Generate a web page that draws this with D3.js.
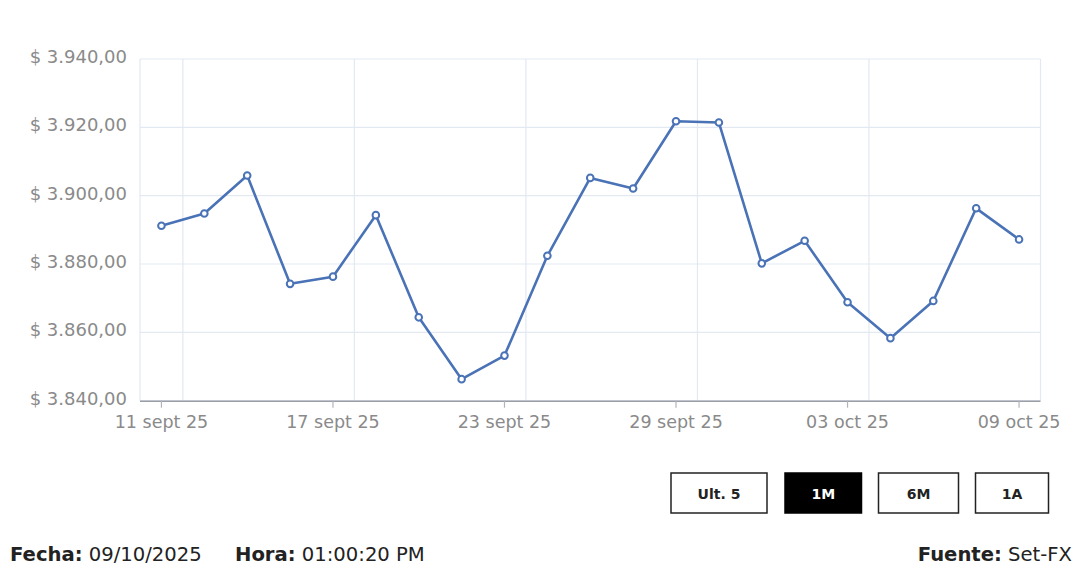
<!DOCTYPE html>
<html><head><meta charset="utf-8">
<script src="https://cdn.jsdelivr.net/npm/d3@7"></script>
<style>
html,body{margin:0;padding:0;background:#fff;width:1080px;height:567px;overflow:hidden}
svg{display:block}
</style></head>
<body>
<svg id="c" width="1080" height="567"></svg>
<script>
const dates = ["11 sept 25","12 sept 25","15 sept 25","16 sept 25","17 sept 25","18 sept 25","19 sept 25","22 sept 25","23 sept 25","24 sept 25","25 sept 25","26 sept 25","29 sept 25","30 sept 25","01 oct 25","02 oct 25","03 oct 25","06 oct 25","07 oct 25","08 oct 25","09 oct 25"];
const values = [3891.2,3894.8,3905.9,3874.2,3876.3,3894.3,3864.4,3846.3,3853.2,3882.4,3905.2,3902.1,3921.8,3921.4,3880.2,3886.8,3868.8,3858.3,3869.2,3896.3,3887.2];
const yTicks = [3840,3860,3880,3900,3920,3940];
const xTickDates = ["11 sept 25","17 sept 25","23 sept 25","29 sept 25","03 oct 25","09 oct 25"];
const buttons = ["Ult. 5","1M","6M","1A"];
const activeButton = "1M";

const FONT = "'DejaVu Sans', sans-serif";
const svg = d3.select("#c");
const L = 140, R = 1040.5, T = 59, B = 400.7;

const x = d3.scaleBand().domain(dates).range([L, R]).padding(0);
const cx = d => x(d) + x.bandwidth()/2;
const y = d3.scaleLinear().domain([3840,3940]).range([B, T]);

// horizontal grid
svg.append("g").selectAll("line").data(yTicks).join("line")
  .attr("x1", L).attr("x2", R).attr("y1", d=>y(d)).attr("y2", d=>y(d))
  .attr("stroke", "#e3e9f2").attr("stroke-width", 1.2);
// vertical grid (band boundaries after each tick category) + borders
const vgrid = xTickDates.slice(0, -1).map(d => x(d) + x.bandwidth());
svg.append("g").selectAll("line").data([L, ...vgrid, R]).join("line")
  .attr("x1", d=>d).attr("x2", d=>d).attr("y1", T).attr("y2", B)
  .attr("stroke", "#e3e9f2").attr("stroke-width", 1.2);

// y axis labels
const fmt = v => "$ " + d3.format(",.2f")(v).replace(/,/g,"#").replace(/\./g,",").replace(/#/g,".");
svg.append("g").selectAll("text").data(yTicks).join("text")
  .attr("x", 127).attr("y", d=>y(d)+4)
  .attr("text-anchor","end").attr("font-family",FONT).attr("font-size",18)
  .attr("fill","#8a8a8a").text(d=>fmt(d));

// x axis
const xAxis = d3.axisBottom(x).tickValues(xTickDates).tickSize(7).tickSizeOuter(0);
const gx = svg.append("g").attr("transform",`translate(0,${B})`).call(xAxis);
gx.select(".domain").attr("stroke","#9a9ea6").attr("stroke-width",1.5).attr("d",`M${L},0.5H${R}`);
gx.selectAll(".tick line").attr("stroke","#b0b4ba").attr("stroke-width",1.2);
gx.selectAll(".tick text").attr("font-family",FONT).attr("font-size",17.5).attr("fill","#8a8a8a").attr("dy","0").attr("y",27.5);

// line
const line = d3.line().x((d,i)=>cx(dates[i])).y(d=>y(d));
svg.append("path").datum(values).attr("d",line)
  .attr("fill","none").attr("stroke","#4a72b6").attr("stroke-width",2.6).attr("stroke-linejoin","round");
svg.append("g").selectAll("circle").data(values).join("circle")
  .attr("cx",(d,i)=>cx(dates[i])).attr("cy",d=>y(d)).attr("r",3.3)
  .attr("fill","#fff").attr("stroke","#4a72b6").attr("stroke-width",2);

// buttons
const bx = d3.scaleOrdinal().domain(buttons).range([671,785,878.5,975.5]);
const bw = d3.scaleOrdinal().domain(buttons).range([96,76.5,80,73]);
const bg = svg.append("g").selectAll("g").data(buttons).join("g")
  .attr("transform", d=>`translate(${bx(d)},473)`);
bg.append("rect").attr("width",d=>bw(d)).attr("height",40)
  .attr("fill",d=>d===activeButton?"#000":"#fff")
  .attr("stroke",d=>d===activeButton?"#000":"#222").attr("stroke-width",1.5);
bg.append("text").attr("x",d=>bw(d)/2).attr("y",25.5).attr("text-anchor","middle")
  .attr("font-family",FONT).attr("font-size",14).attr("font-weight",700)
  .attr("fill",d=>d===activeButton?"#fff":"#222").text(d=>d);

// footer
const foot = (xp, label, val, anchor) => {
  const t = svg.append("text").attr("x",xp).attr("y",561).attr("font-family",FONT)
    .attr("font-size",19.6).attr("fill","#222").attr("text-anchor",anchor||"start");
  t.append("tspan").attr("font-weight",700).text(label);
  t.append("tspan").attr("font-weight",400).text(" " + val);
};
foot(10,"Fecha:","09/10/2025");
foot(235,"Hora:","01:00:20 PM");
foot(1072,"Fuente:","Set-FX","end");
</script>
</body></html>
